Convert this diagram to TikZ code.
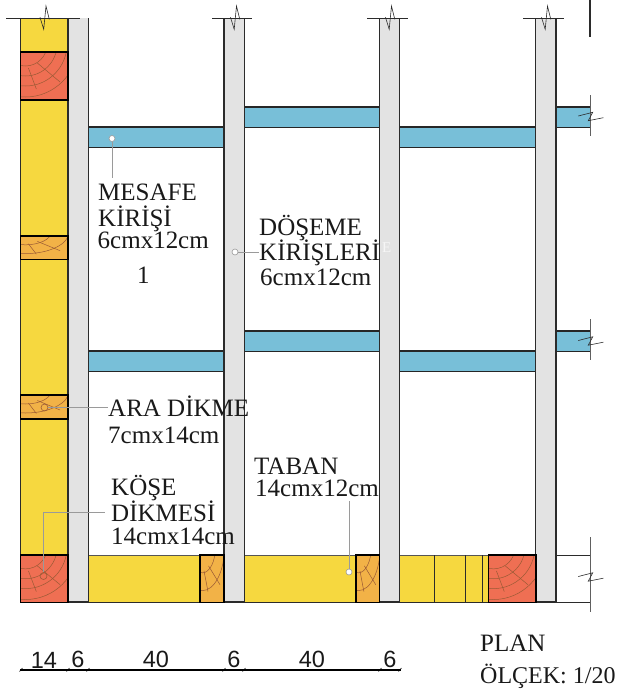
\documentclass[tikz,border=0pt]{standalone}
\usepackage{fontspec}
\setmainfont{Liberation Serif}
\newfontfamily\dimfont{Liberation Sans}
\definecolor{cyellow}{HTML}{F6D83F}
\definecolor{cred}{HTML}{EF6F53}
\definecolor{corange}{HTML}{F2B247}
\definecolor{cblue}{HTML}{78BFD8}
\definecolor{cwall}{HTML}{E3E3E3}
\definecolor{cline}{HTML}{2B2B2B}
\definecolor{cgrain}{HTML}{9A5A35}
\definecolor{cleader}{HTML}{9A9A9A}
\tikzset{
  wallfill/.style={fill=cwall,draw=none},
  edge line/.style={draw=cline,line width=1.1pt},
  beam line/.style={draw=black!85,line width=1.2pt},
  block/.style={draw=black,line width=1.5pt},
  grain line/.style={draw=cgrain,line width=.5pt},
  leader/.style={draw=cleader,line width=.7pt},
  dot/.style={circle,draw=cleader,fill=white,line width=.6pt,inner sep=0pt,minimum size=6pt},
  ring/.style={circle,draw=cgrain,line width=.6pt,inner sep=0pt,minimum size=7pt},
  lab/.style={anchor=base west,inner sep=0pt,font=\fontsize{25}{25}\selectfont,text=black!90},
  dimlab/.style={anchor=base,inner sep=0pt,font=\dimfont\fontsize{23.5}{23.5}\selectfont,text=black!90},
  zig/.style={draw=cline,line width=.6pt,line join=miter},
  cutline/.style={draw=cline!75,line width=.7pt}
}
\newcommand{\woodgrain}[6]{%
  \begin{scope}[shift={(#1,#2)},xscale=#3/48,yscale=#4/48]
    \begin{scope}
      \clip (0,0) rectangle (48,48);
      \fill[#5] (0,0) rectangle (48,48);
      \foreach \rr in {#6}{\draw[grain line] (5,-8) circle[radius=\rr];}
      \draw[grain line] (8,16) -- (16,37);
      \draw[grain line] (17,11) -- (40,30);
    \end{scope}
  \end{scope}
  \draw[block] (#1,#2) rectangle ++(#3,#4);
}
\newcommand{\vbreak}[2]{\draw[zig] (#1-4,#2-.7) -- (#1-.3,#2+11.3) -- (#1+2,#2-12) -- (#1+5.3,#2+1.3);}
\newcommand{\hbreak}[2]{\draw[zig] (#1-11.7,#2-.5) -- (#1+2.7,#2-4.2) -- (#1-1.7,#2+4.2) -- (#1+13.3,#2+1.2);}
\begin{document}
\begin{tikzpicture}[x=1pt,y=-1pt]
\useasboundingbox (0,0) rectangle (619,689);
\fill[white] (0,0) rectangle (619,689);
% yellow stud wall
\fill[cyellow] (20.5,18) rectangle (68,602);
\draw[cline,line width=.7pt] (20.5,18) -- (20.5,602);
% sill
\foreach \xa/\xb in {88/224,244/380,400/536}{
  \fill[cyellow] (\xa,555) rectangle (\xb,602);
  \draw[cline!80,line width=.8pt] (\xa,555) -- (\xb,555);
  \draw[cline,line width=.8pt] (\xa,602) -- (\xb,602);
}
\draw[cline,line width=.8pt] (20.5,602) -- (68,602);
\foreach \xa in {434,465,482}{\draw[cline,line width=.8pt] (\xa,555) -- (\xa,602);}
% beams
\foreach \xa/\xb/\ya in {88/224/127,244/380/107,400/536/127,556/590/107,88/224/351,244/380/331,400/536/351,556/590/331}{
  \fill[cblue] (\xa,\ya) rectangle (\xb,\ya+20.5);
  \draw[beam line] (\xa,\ya) -- (\xb,\ya);
  \draw[beam line] (\xa,\ya+20.5) -- (\xb,\ya+20.5);
}
% studs in walls
\foreach \xa in {68,224,379.5,535.7}{
  \fill[cwall] (\xa,18) rectangle (\xa+20.3,602);
  \draw[edge line] (\xa,18) -- (\xa,602) -- (\xa+20.3,602) -- (\xa+20.3,18);
}
% wood blocks
\woodgrain{20.5}{52}{47.5}{48}{cred}{22,32,42,53}
\woodgrain{20.5}{236}{47.5}{23.5}{corange}{26,44}
\woodgrain{20.5}{395}{47.5}{24}{corange}{26,44}
\woodgrain{20.5}{555}{47.5}{47.5}{cred}{22,32,42,53}
\woodgrain{200}{555}{24}{47.5}{corange}{26,44}
\woodgrain{356}{555}{23.7}{47.5}{corange}{26,44}
\woodgrain{488.5}{555}{47.3}{47.5}{cred}{22,32,42,53}
% top cut lines and breaks
\foreach \xa/\xb in {6/80,212/252,367/408,523/564}{\draw[cline,line width=.7pt] (\xa,18.3) -- (\xb,18.3);}
\vbreak{44}{18}
\vbreak{234.5}{18}
\vbreak{389.5}{18}
\vbreak{545.5}{18}
% right cut lines
\draw[cutline] (590,95) -- (590,136);
\draw[cutline] (590,319) -- (590,360);
\draw[cutline] (590,537) -- (590,612);
\draw[cline,line width=.7pt] (556,555) -- (590,555);
\draw[cline,line width=.7pt] (556,602) -- (590,602);
\hbreak{590}{116.5}
\hbreak{590}{341}
\hbreak{590}{577}
\draw[cline,line width=1.4pt] (590,0) -- (590,37);
% labels
\node[lab] (mesafe) at (98,200) {MESAFE};
\node[lab] (kirisi) at (98,226) {KİRİŞİ};
\node[lab] (mesafedim) at (97.5,248) {6cmx12cm};
\node[lab] (one) at (137,283) {1};
\node[lab] (doseme) at (259,235) {DÖŞEME};
\node[lab] (kirisleri) at (259,260) {KİRİŞLERİ};
\node[lab] (dosemedim) at (260,285) {6cmx12cm};
\node[lab] (ara) at (108,416) {ARA DİKME};
\node[lab] (aradim) at (108,443) {7cmx14cm};
\node[lab] (kose) at (111,495) {KÖŞE};
\node[lab] (dikmesi) at (111,521) {DİKMESİ};
\node[lab] (kosedim) at (111,544) {14cmx14cm};
\node[lab] (taban) at (254,474) {TABAN};
\node[lab] (tabandim) at (255,496) {14cmx12cm};
\node[lab] (plan) at (480,651) {PLAN};
\node[lab,font=\fontsize{24}{24}\selectfont] (olcek) at (480,683) {ÖLÇEK: 1/20};
\node[anchor=base west,inner sep=0pt,font=\fontsize{15}{15}\selectfont,text=white,opacity=.7] (ghost) at (382,252) {E};
% leaders
\coordinate (mesafeEnd) at (112,178);
\coordinate (dosemeEnd) at (259,252);
\coordinate (araEnd) at (108,407.5);
\coordinate (koseEnd) at (105,512);
\coordinate (koseBend) at (43.5,512);
\coordinate (tabanEnd) at (349,501);
\node[dot] (mesafeDot) at (112,138.5) {};
\node[dot] (dosemeDot) at (235,252) {};
\node[ring] (araDot) at (44.5,407.5) {};
\node[ring] (koseDot) at (43.5,576) {};
\node[dot] (tabanDot) at (349,572) {};
\draw[leader] (mesafeDot) -- (mesafeEnd);
\draw[leader] (dosemeDot) -- (dosemeEnd);
\draw[leader] (araDot) -- (araEnd);
\draw[leader] (koseDot) -- (koseBend) -- (koseEnd);
\draw[leader] (tabanDot) -- (tabanEnd);
% dimensions
\coordinate (d0) at (20,670);
\coordinate (d6) at (401,670);
\draw[black,line width=1.2pt] (d0) -- (d6);
\foreach \tx in {21,68,88,224,244,380,400}{\draw[black,line width=.6pt] (\tx-1.5,671.5) -- (\tx+1.5,668);}
\node[dimlab] (w1) at (44,668) {14};
\node[dimlab] (w2) at (78,667) {6};
\node[dimlab] (w3) at (156,667) {40};
\node[dimlab] (w4) at (234,667) {6};
\node[dimlab] (w5) at (312,667) {40};
\node[dimlab] (w6) at (390,667) {6};
\end{tikzpicture}
\end{document}
